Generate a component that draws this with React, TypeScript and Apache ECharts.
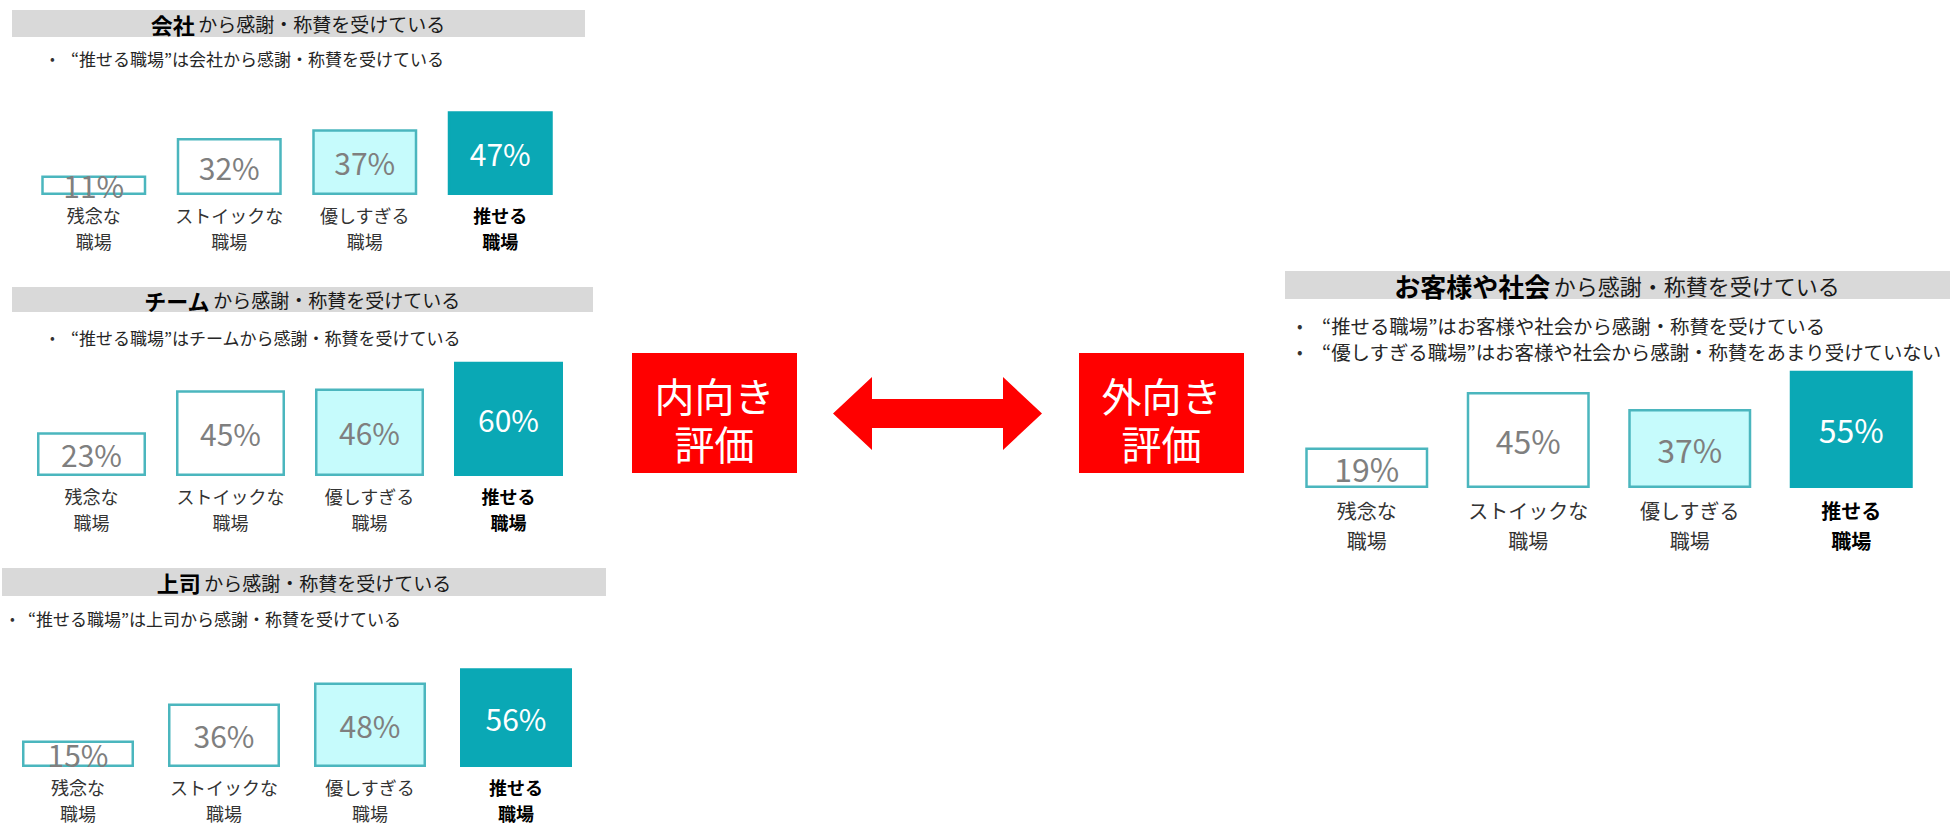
import React, { useEffect, useRef } from "react";
import * as echarts from "echarts";

const FONT = '"Noto Sans CJK JP", "Noto Sans", sans-serif';

const categories = ["残念な\n職場", "ストイックな\n職場", "優しすぎる\n職場", "推せる\n職場"];
const companyValues = [11, 32, 37, 47];
const teamValues = [23, 45, 46, 60];
const bossValues = [15, 36, 48, 56];
const customerValues = [19, 45, 37, 55];

const panelTitlesBold = ["会社", "チーム", "上司", "お客様や社会"];
const panelTitleRest = "から感謝・称賛を受けている";
const companyBullets = ["“推せる職場”は会社から感謝・称賛を受けている"];
const teamBullets = ["“推せる職場”はチームから感謝・称賛を受けている"];
const bossBullets = ["“推せる職場”は上司から感謝・称賛を受けている"];
const customerBullets = [
  "“推せる職場”はお客様や社会から感謝・称賛を受けている",
  "“優しすぎる職場”はお客様や社会から感謝・称賛をあまり受けていない",
];
const leftBoxLines = ["内向き", "評価"];
const rightBoxLines = ["外向き", "評価"];

const BORDER = "#4bb6be";
const barStyles = [
  { color: "#ffffff", borderColor: BORDER, borderWidth: 2.5 },
  { color: "#ffffff", borderColor: BORDER, borderWidth: 2.5 },
  { color: "#c6fbfc", borderColor: BORDER, borderWidth: 2.5 },
  { color: "#0aa8b5", borderColor: "#0aa8b5", borderWidth: 2.5 },
];

export default function App() {
  const ref = useRef<HTMLDivElement>(null);
  useEffect(() => {
    if (!ref.current) return;
    const chart = echarts.init(ref.current, null, { renderer: "svg" });

    const panels = [
      { values: companyValues, left: 26, width: 542, top: 106, height: 89, max: 50, barWidth: 105, fs: 30, lfs: 18, lh: 26, bullets: companyBullets, bulletX: 50, textX: 71, bulletY: [58], bfs: 17, band: [12, 10, 573, 27], titleX: 298, bold: 22, norm: 19 },
      { values: teamValues, left: 22, width: 556, top: 358, height: 118, max: 62, barWidth: 109, fs: 30, lfs: 18, lh: 26, bullets: teamBullets, bulletX: 50, textX: 71, bulletY: [337], bfs: 17, band: [12, 287, 581, 25], titleX: 302, bold: 22, norm: 19 },
      { values: bossValues, left: 5, width: 584, top: 663, height: 104, max: 59, barWidth: 112, fs: 30, lfs: 18, lh: 26, bullets: bossBullets, bulletX: 10, textX: 28, bulletY: [618], bfs: 17, band: [2, 568, 604, 28], titleX: 304, bold: 22, norm: 19 },
      { values: customerValues, left: 1286, width: 646, top: 360, height: 128, max: 60, barWidth: 123, fs: 32, lfs: 20, lh: 30, bullets: customerBullets, bulletX: 1297, textX: 1322, bulletY: [325, 351], bfs: 19.4, band: [1285, 271, 665, 28], titleX: 1617, bold: 26, norm: 22 },
    ];

    const grid: any[] = [];
    const xAxis: any[] = [];
    const yAxis: any[] = [];
    const series: any[] = [];
    const graphic: any[] = [];

    panels.forEach((p, pi) => {
      grid.push({ left: p.left, top: p.top, width: p.width, height: p.height });
      xAxis.push({
        type: "category",
        gridIndex: pi,
        data: categories,
        axisLine: { show: false },
        axisTick: { show: false },
        axisLabel: {
          interval: 0,
          margin: 7,
          fontFamily: FONT,
          fontSize: p.lfs,
          lineHeight: p.lh,
          color: "#333333",
          formatter: (v: string, i: number) =>
            i === 3
              ? v.split("\n").map((s) => `{b|${s}}`).join("\n")
              : v,
          rich: {
            b: { fontFamily: FONT, fontSize: p.lfs, lineHeight: p.lh, fontWeight: "bold", color: "#000000" },
          },
        },
      });
      yAxis.push({
        type: "value",
        gridIndex: pi,
        min: 0,
        max: p.max,
        show: false,
        splitLine: { show: false },
      });
      series.push({
        type: "bar",
        xAxisIndex: pi,
        yAxisIndex: pi,
        barWidth: p.barWidth,
        data: p.values.map((v, i) => ({
          value: v,
          itemStyle: barStyles[i],
          label: { color: i === 3 ? "#ffffff" : "#7f7f7f" },
        })),
        label: {
          show: true,
          position: "inside",
          formatter: "{c}%",
          fontFamily: FONT,
          fontSize: p.fs,
          lineHeight: p.fs - 6,
        },
      });

      const [bx, by, bw, bh] = p.band;
      graphic.push({
        type: "rect",
        shape: { x: bx, y: by, width: bw, height: bh },
        style: { fill: "#d9d9d9" },
      });
      graphic.push({
        type: "text",
        x: p.titleX,
        y: by + bh / 2,
        style: {
          text: `{b|${panelTitlesBold[pi]}} {n|${panelTitleRest}}`,
          align: "center",
          verticalAlign: "middle",
          rich: {
            b: { fontFamily: FONT, fontSize: p.bold, fontWeight: "bold", fill: "#000000" },
            n: { fontFamily: FONT, fontSize: p.norm, fill: "#1a1a1a" },
          },
        },
      });
      p.bullets.forEach((t, bi) => {
        graphic.push({
          type: "text",
          x: p.bulletX,
          y: p.bulletY[bi],
          style: { text: "•", fontFamily: FONT, fontSize: p.bfs - 3, fill: "#333333", verticalAlign: "middle" },
        });
        graphic.push({
          type: "text",
          x: p.textX,
          y: p.bulletY[bi],
          style: { text: t, fontFamily: FONT, fontSize: p.bfs, fill: "#262626", verticalAlign: "middle" },
        });
      });
    });

    // red boxes
    const boxes = [
      { x: 632, lines: leftBoxLines },
      { x: 1079, lines: rightBoxLines },
    ];
    boxes.forEach((b) => {
      graphic.push({
        type: "rect",
        shape: { x: b.x, y: 353, width: 165, height: 120 },
        style: { fill: "#ff0000" },
      });
      graphic.push({
        type: "text",
        x: b.x + 82.5,
        y: 419,
        style: {
          text: b.lines.join("\n"),
          fontFamily: FONT,
          fontSize: 40,
          lineHeight: 48,
          fill: "#ffffff",
          align: "center",
          verticalAlign: "middle",
        },
      });
    });
    graphic.push({
      type: "polygon",
      shape: {
        points: [
          [833, 413.5], [872, 377], [872, 399], [1003, 399], [1003, 377],
          [1042, 413.5], [1003, 450], [1003, 428], [872, 428], [872, 450],
        ],
      },
      style: { fill: "#ff0000" },
    });

    chart.setOption({
      animation: false,
      backgroundColor: "#ffffff",
      textStyle: { fontFamily: FONT },
      grid,
      xAxis,
      yAxis,
      series,
      graphic,
    });
    return () => chart.dispose();
  }, []);

  return (
    <div
      ref={ref}
      style={{ position: "fixed", left: 0, top: 0, width: 1950, height: 839, background: "#fff" }}
    />
  );
}
